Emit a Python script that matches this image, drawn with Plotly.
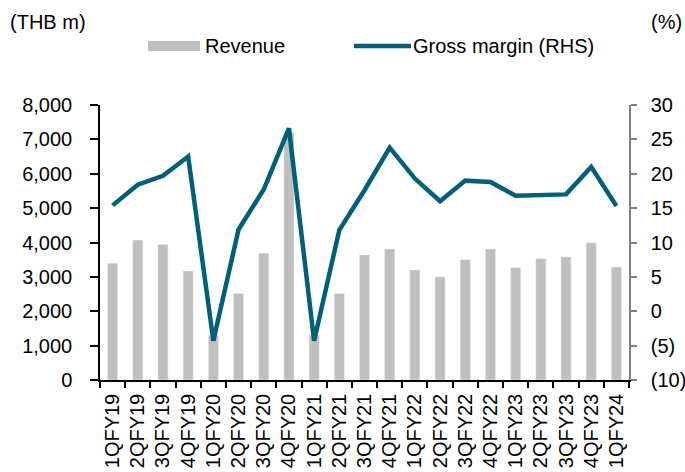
import plotly.graph_objects as go

quarters = ["1QFY19", "2QFY19", "3QFY19", "4QFY19", "1QFY20", "2QFY20", "3QFY20",
            "4QFY20", "1QFY21", "2QFY21", "3QFY21", "4QFY21", "1QFY22", "2QFY22",
            "3QFY22", "4QFY22", "1QFY23", "2QFY23", "3QFY23", "4QFY23", "1QFY24"]
revenue = [3400, 4070, 3940, 3170, 1300, 2520, 3690, 7200, 1300, 2520, 3640,
           3810, 3200, 3000, 3500, 3810, 3270, 3530, 3580, 3990, 3290]
gross_margin = [15.4, 18.4, 19.7, 22.5, -4.3, 11.9, 17.7, 26.6, -4.3, 11.8, 17.6,
                23.8, 19.3, 16.0, 19.0, 18.8, 16.8, 16.9, 17.0, 21.0, 15.3]
left_ticks = [0, 1000, 2000, 3000, 4000, 5000, 6000, 7000, 8000]
right_ticks = [-10, -5, 0, 5, 10, 15, 20, 25, 30]
right_labels = ["(10)", "(5)", "0", "5", "10", "15", "20", "25", "30"]

BAR_COLOR = "#BFBFBF"
LINE_COLOR = "#00607A"
FONT = "Liberation Sans, Arial, sans-serif"
FS = 20

# plot area in pixels: x 100..629, y 105..380
PW, PH = 529, 275

fig = go.Figure()
fig.add_trace(go.Bar(x=quarters, y=revenue, name="Revenue", marker_color=BAR_COLOR,
                     width=0.4, yaxis="y", showlegend=False))
fig.add_trace(go.Scatter(x=quarters, y=gross_margin, name="Gross margin (RHS)",
                         mode="lines", line=dict(color=LINE_COLOR, width=4.5),
                         yaxis="y2", showlegend=False))

fig.update_layout(
    width=685, height=472,
    margin=dict(l=100, r=56, t=105, b=92),
    paper_bgcolor="white", plot_bgcolor="white",
    font=dict(family=FONT, size=FS, color="black"),
    xaxis=dict(type="category", tickangle=-90, showline=True, linecolor="black",
               linewidth=1.5, ticks="outside", tickson="boundaries", ticklen=6,
               tickcolor="black", tickwidth=1.5, showgrid=False, zeroline=False,
               tickfont=dict(size=FS), range=[-0.5, 20.5], ticklabelstandoff=4,
               automargin=False),
    yaxis=dict(range=[0, 8000], tickvals=left_ticks, tickformat=",d",
               showline=True, linecolor="black", linewidth=1.5, ticks="outside",
               ticklen=8, tickcolor="black", tickwidth=1.5, showgrid=False,
               zeroline=False, ticklabelstandoff=14, tickfont=dict(size=FS),
               automargin=False),
    yaxis2=dict(range=[-10, 30], tickvals=right_ticks, ticktext=right_labels,
                overlaying="y", side="right", showline=True, linecolor="#7F7F7F",
                linewidth=1.5, ticks="outside", ticklen=6, tickcolor="#7F7F7F",
                tickwidth=1.5, showgrid=False, zeroline=False,
                ticklabelstandoff=10, tickfont=dict(size=FS), automargin=False),
)

# axis unit labels
fig.add_annotation(text="(THB m)", xref="paper", yref="paper", x=(8 - 100) / PW,
                   y=1 + (105 - 22) / PH, xanchor="left", yanchor="middle",
                   showarrow=False, font=dict(size=FS))
fig.add_annotation(text="(%)", xref="paper", yref="paper", x=(684 - 100) / PW,
                   y=1 + (105 - 22) / PH, xanchor="right", yanchor="middle",
                   showarrow=False, font=dict(size=FS))

# legend (manual)
leg_y = 1 + (105 - 46) / PH
fig.add_shape(type="rect", xref="paper", yref="paper",
              x0=48 / PW, x1=100 / PW, y0=leg_y - 5 / PH, y1=leg_y + 5 / PH,
              fillcolor=BAR_COLOR, line=dict(width=0))
fig.add_annotation(text="Revenue", xref="paper", yref="paper", x=103 / PW, y=leg_y,
                   xanchor="left", yanchor="middle", showarrow=False,
                   font=dict(size=FS))
fig.add_shape(type="line", xref="paper", yref="paper",
              x0=254 / PW, x1=311 / PW, y0=leg_y, y1=leg_y,
              line=dict(color=LINE_COLOR, width=4.5))
fig.add_annotation(text="Gross margin (RHS)", xref="paper", yref="paper", x=311 / PW,
                   y=leg_y, xanchor="left", yanchor="middle", showarrow=False,
                   font=dict(size=FS))

fig.write_html("out.html")
